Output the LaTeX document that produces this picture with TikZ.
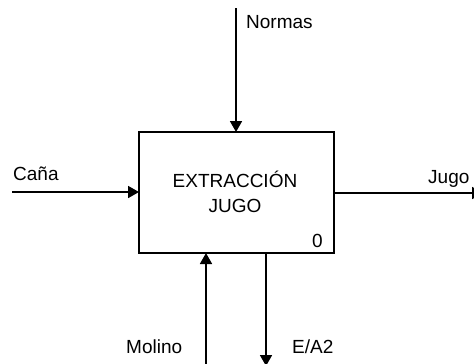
\documentclass[tikz,border=0pt]{standalone}
\usepackage{fontspec}
\setmainfont{Liberation Sans}
\usetikzlibrary{arrows.meta}
\tikzset{
  conn/.style={line width=1.8pt, -{Triangle[length=11pt,width=12pt]}},
  lbl/.style={inner sep=0pt, anchor=base west, font=\fontsize{19}{25}\selectfont},
  func/.style={draw, line width=1.8pt, minimum width=195pt, minimum height=121pt, inner sep=0pt}
}
\begin{document}
\begin{tikzpicture}[x=1pt,y=-1pt]
\useasboundingbox (0,0) rectangle (474,364);
\node[func] (box) at (236.5,192.5) {};
\node[inner sep=0pt, anchor=base, align=center, font=\fontsize{19}{25}\selectfont] (t) at (235,212) {EXTRACCIÓN\\JUGO};
\node[inner sep=0pt, anchor=base east, font=\fontsize{19}{25}\selectfont] (n0) at (323,247) {0};
% free ends
\coordinate (nTop) at (236,8);
\coordinate (nIn) at (236,132);
\coordinate (cL) at (12,192);
\coordinate (cIn) at (139,192);
\coordinate (jOut) at (334,193);
\coordinate (jR) at (483,193);
\coordinate (mB) at (206,364);
\coordinate (mIn) at (206,253);
\coordinate (eOut) at (266,253);
\coordinate (eB) at (266,366);
\draw[conn] (nTop) -- (nIn);
\draw[conn] (cL) -- (cIn);
\draw[conn] (jOut) -- (jR);
\draw[conn] (mB) -- (mIn);
\draw[conn] (eOut) -- (eB);
% labels
\node[lbl] (lN) at (246,28) {Normas};
\node[lbl] (lC) at (13,180) {Caña};
\node[lbl] (lJ) at (428,183) {Jugo};
\node[lbl] (lM) at (126,353) {Molino};
\node[lbl] (lE) at (292,353) {E/A2};
\end{tikzpicture}
\end{document}
